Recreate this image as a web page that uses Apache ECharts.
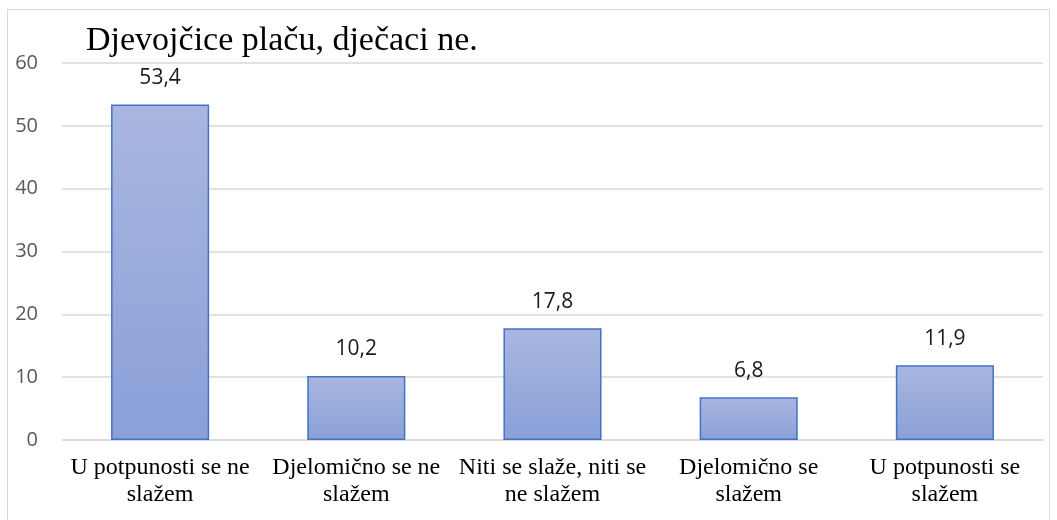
<!DOCTYPE html>
<html><head><meta charset="utf-8">
<script src="https://cdn.jsdelivr.net/npm/echarts@6/dist/echarts.min.js"></script>
<style>
html,body{margin:0;padding:0;background:#fff;}
#frame{position:absolute;left:7px;top:9px;width:1043px;height:520px;border:1px solid #d9d9d9;box-sizing:border-box;}
#c{position:absolute;left:0;top:0;width:1057px;height:520px;}
</style></head>
<body><div id="frame"></div><div id="c"></div>
<script>
const title = 'Djevojčice plaču, dječaci ne.';
const categories = ['U potpunosti se ne\nslažem','Djelomično se ne\nslažem','Niti se slaže, niti se\nne slažem','Djelomično se\nslažem','U potpunosti se\nslažem'];
const values = [53.4, 10.2, 17.8, 6.8, 11.9];
const yTicks = {min:0, max:60, interval:10};

const chart = echarts.init(document.getElementById('c'), null, {renderer:'canvas'});
chart.setOption({
  animation:false,
  title:{text:title,left:81,top:19,textStyle:{fontFamily:'Liberation Serif',fontSize:34,fontWeight:'normal',color:'#000'}},
  grid:{left:62,right:14,top:63,bottom:80},
  xAxis:{type:'category',data:categories,
    axisLine:{lineStyle:{color:'#d9d9d9',width:1.5}},axisTick:{show:false},
    axisLabel:{interval:0,margin:14,fontFamily:'Liberation Serif',fontSize:24,lineHeight:27,color:'#000'}},
  yAxis:{type:'value',min:yTicks.min,max:yTicks.max,interval:yTicks.interval,
    axisLine:{show:false},axisTick:{show:false},
    splitLine:{lineStyle:{color:'#d9d9d9',width:1.5}},
    axisLabel:{margin:24,fontFamily:'Open Sans',fontSize:20,color:'#595959'}},
  series:[{type:'bar',data:values,barWidth:'50%',
    itemStyle:{borderColor:'#4472c4',borderWidth:1.5,
      color:new echarts.graphic.LinearGradient(0,0,0,1,[{offset:0,color:'#a9b7e0'},{offset:1,color:'#8aa0d8'}])},
    label:{show:true,position:'top',distance:16,fontFamily:'Open Sans',fontSize:21,color:'#1a1a1a',
      formatter:p=>String(p.value).replace('.',',')}}]
});
</script></body></html>
